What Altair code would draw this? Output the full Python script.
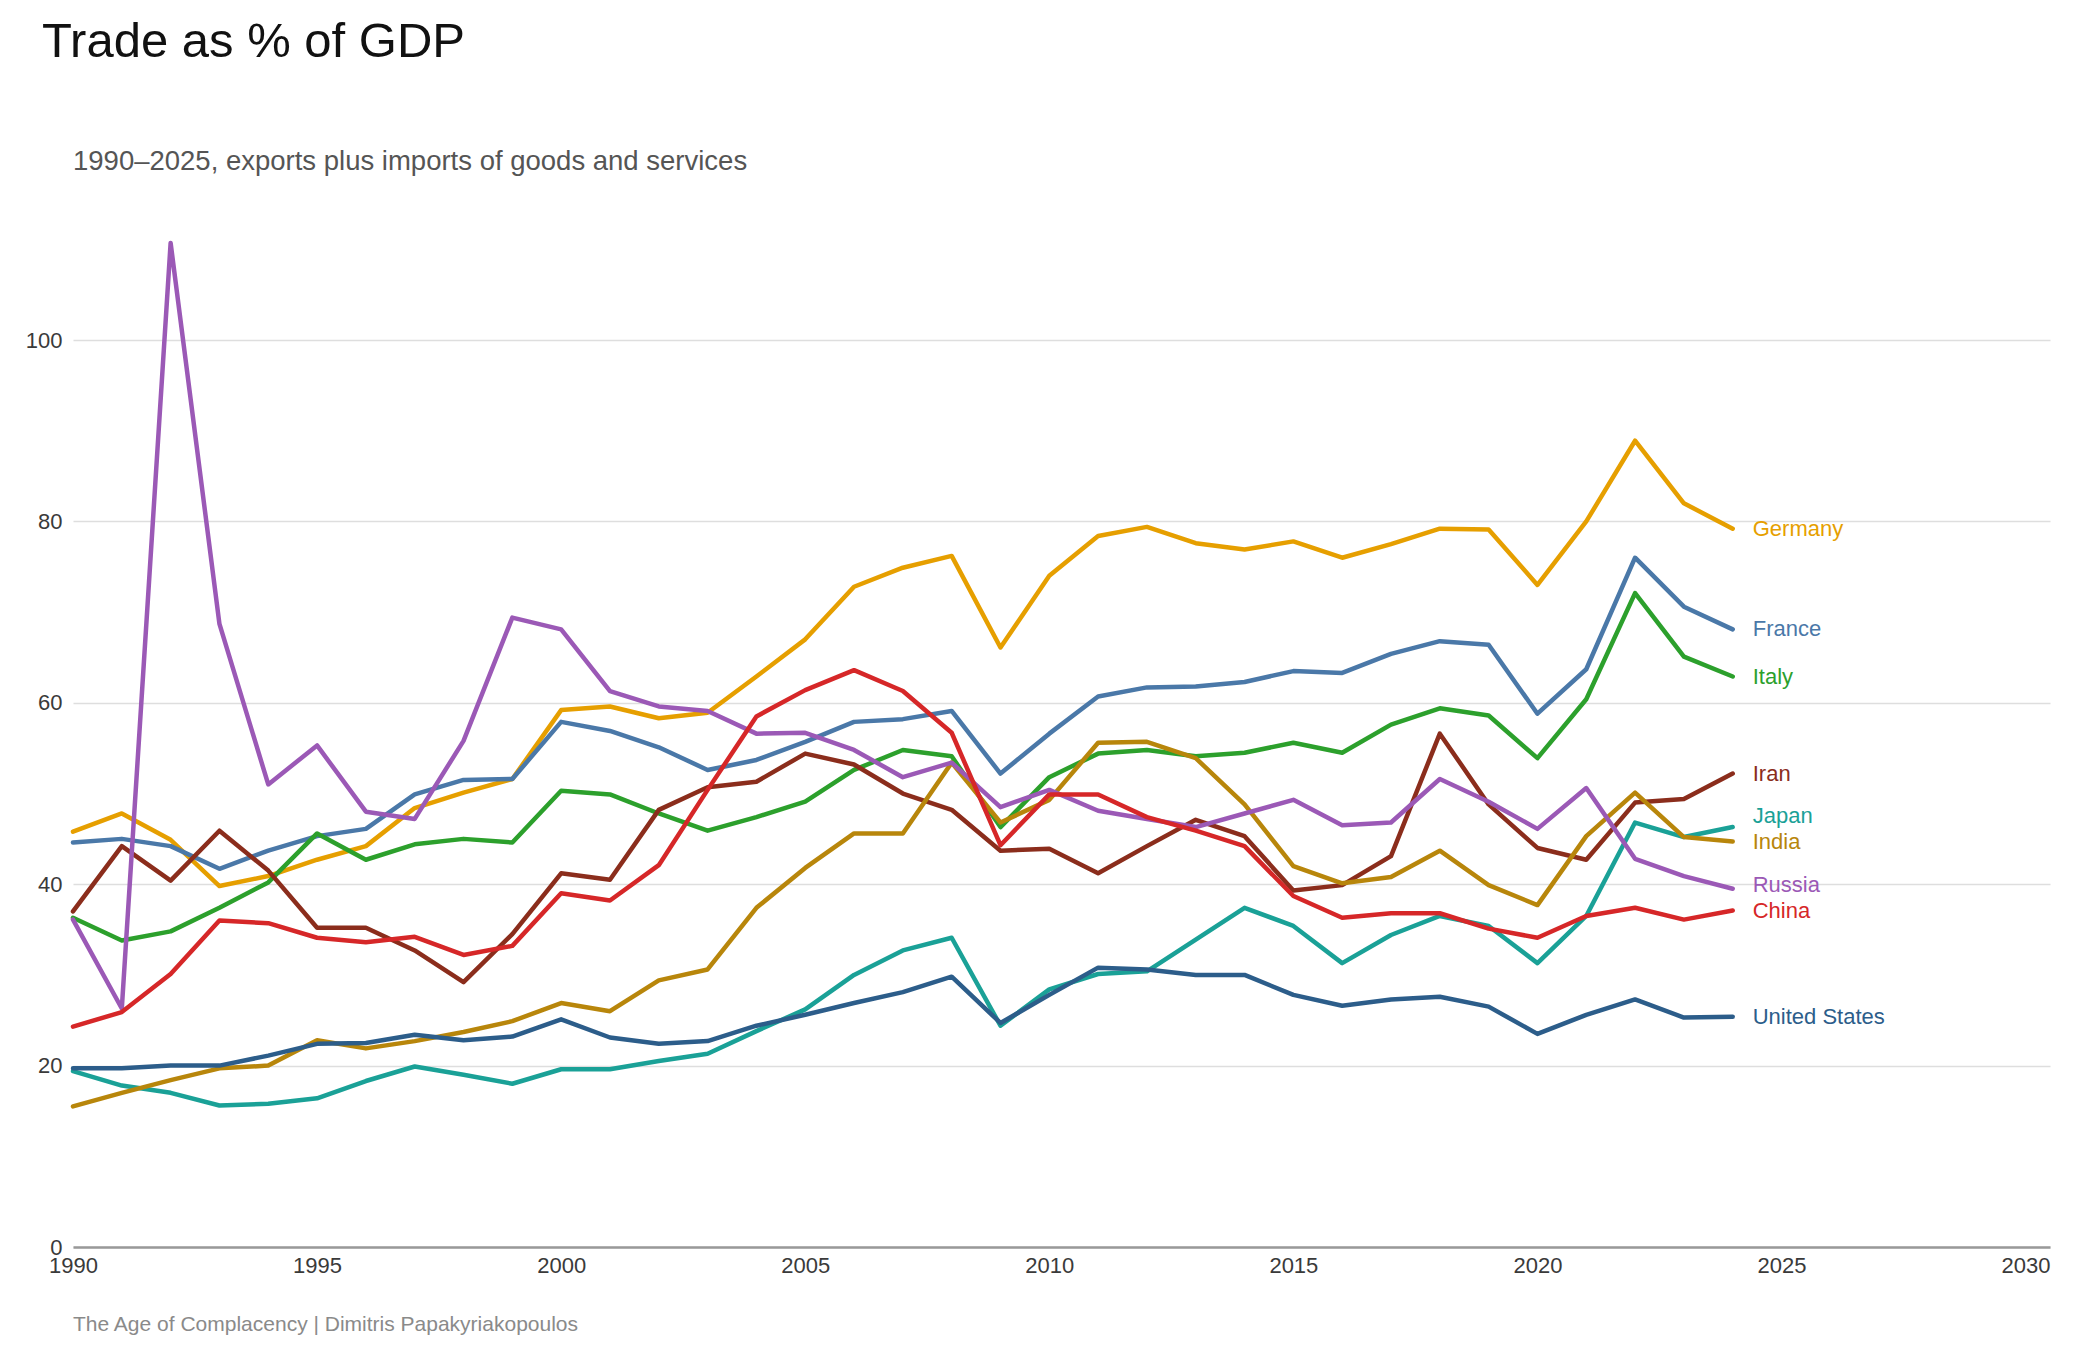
import altair as alt
import pandas as pd

# Trade (exports + imports) as a share of GDP, in percent
years = list(range(1990, 2025))

germany = [45.8, 47.8, 44.9, 39.8, 40.9, 42.7, 44.2, 48.4, 50.1, 51.6,
           59.2, 59.6, 58.3, 58.9, 62.9, 67.0, 72.8, 74.9, 76.2, 66.1,
           74.0, 78.4, 79.4, 77.6, 76.9, 77.8, 76.0, 77.5, 79.2, 79.1,
           73.0, 80.0, 88.9, 82.0, 79.2]
france = [44.6, 45.0, 44.2, 41.7, 43.7, 45.3, 46.1, 49.9, 51.5, 51.6,
          57.9, 56.9, 55.1, 52.6, 53.7, 55.7, 57.9, 58.2, 59.1, 52.2,
          56.6, 60.7, 61.7, 61.8, 62.3, 63.5, 63.3, 65.4, 66.8, 66.4,
          58.8, 63.7, 76.0, 70.6, 68.1]
italy = [36.3, 33.8, 34.8, 37.4, 40.2, 45.6, 42.7, 44.4, 45.0, 44.6,
         50.3, 49.9, 47.8, 45.9, 47.4, 49.1, 52.6, 54.8, 54.1, 46.3,
         51.8, 54.4, 54.8, 54.1, 54.5, 55.6, 54.5, 57.6, 59.4, 58.6,
         53.9, 60.4, 72.1, 65.1, 62.9]
iran = [37.0, 44.2, 40.4, 45.9, 41.5, 35.2, 35.2, 32.7, 29.2, 34.5,
        41.2, 40.5, 48.2, 50.7, 51.3, 54.4, 53.2, 50.0, 48.2, 43.7,
        43.9, 41.2, 44.2, 47.1, 45.3, 39.3, 39.9, 43.1, 56.6, 48.8,
        44.0, 42.7, 49.0, 49.4, 52.2]
japan = [19.4, 17.8, 17.0, 15.6, 15.8, 16.4, 18.3, 19.9, 19.0, 18.0,
         19.6, 19.6, 20.5, 21.3, 23.8, 26.2, 30.0, 32.7, 34.1, 24.4,
         28.4, 30.1, 30.4, 33.9, 37.4, 35.4, 31.3, 34.4, 36.5, 35.4,
         31.3, 36.5, 46.8, 45.2, 46.3]
india = [15.5, 17.0, 18.4, 19.7, 20.0, 22.8, 21.9, 22.7, 23.7, 24.9,
         26.9, 26.0, 29.4, 30.6, 37.4, 41.8, 45.6, 45.6, 53.4, 46.8,
         49.3, 55.6, 55.7, 53.9, 48.8, 42.0, 40.1, 40.8, 43.7, 39.9,
         37.7, 45.3, 50.1, 45.2, 44.7]
russia = [36.1, 26.3, 110.7, 68.7, 51.0, 55.3, 48.0, 47.2, 55.8, 69.4,
          68.1, 61.3, 59.6, 59.1, 56.6, 56.7, 54.8, 51.8, 53.4, 48.5,
          50.4, 48.1, 47.2, 46.3, 47.8, 49.3, 46.5, 46.8, 51.6, 49.1,
          46.1, 50.6, 42.8, 40.9, 39.5]
china = [24.3, 25.9, 30.1, 36.0, 35.7, 34.1, 33.6, 34.2, 32.2, 33.2,
         39.0, 38.2, 42.1, 50.4, 58.5, 61.4, 63.6, 61.3, 56.7, 44.3,
         49.9, 49.9, 47.4, 45.9, 44.2, 38.7, 36.3, 36.8, 36.8, 35.1,
         34.1, 36.5, 37.4, 36.1, 37.1]
united_states = [19.7, 19.7, 20.0, 20.0, 21.1, 22.4, 22.5, 23.4, 22.8, 23.2,
                 25.1, 23.1, 22.4, 22.7, 24.4, 25.6, 26.9, 28.1, 29.8, 24.7,
                 27.8, 30.8, 30.6, 30.0, 30.0, 27.8, 26.6, 27.3, 27.6, 26.5,
                 23.5, 25.6, 27.3, 25.3, 25.4]

countries = ["Germany", "France", "Italy", "Iran", "Japan", "India",
             "Russia", "China", "United States"]
series = [germany, france, italy, iran, japan, india, russia, china, united_states]
colors = ["#E69F00", "#4A78A8", "#2CA02C", "#8B2D1C", "#1AA197", "#B8860B",
          "#9B59B6", "#D62728", "#2C5D8A"]

x_ticks = [1990, 1995, 2000, 2005, 2010, 2015, 2020, 2025, 2030]
y_ticks = [0, 20, 40, 60, 80, 100]

FONT = "Liberation Sans"

long_rows = []
for name, vals in zip(countries, series):
    for yr, v in zip(years, vals):
        long_rows.append({"country": name, "year": yr, "value": v})
df = pd.DataFrame(long_rows)

# End-of-line labels: working upward from the lowest, lift any name that
# would sit too close to the one below it
ends = sorted((vals[-1], name) for name, vals in zip(countries, series))
min_gap = 2.8
pos = []
for v, _ in ends:
    if pos and v - pos[-1] < min_gap:
        v = pos[-1] + min_gap
    pos.append(v)
labels = pd.DataFrame({
    "country": [n for _, n in ends],
    "year": [years[-1]] * len(ends),
    "label_y": pos,
})

x_scale = alt.Scale(domain=[1990, 2030.5], nice=False, zero=False)
y_scale = alt.Scale(domain=[0, 115], nice=False)
color_scale = alt.Scale(domain=countries, range=colors)

lines = alt.Chart(df).mark_line(strokeWidth=4.5, strokeCap="round", strokeJoin="round").encode(
    x=alt.X("year:Q", scale=x_scale,
            axis=alt.Axis(values=x_ticks, format="d", title=None, grid=False, ticks=False,
                          domainColor="#999999", domainWidth=2.5, labelFontSize=22,
                          labelColor="#3a3a3a", labelFont=FONT, labelPadding=8,
                          labelFlush=False, labelOverlap=False)),
    y=alt.Y("value:Q", scale=y_scale,
            axis=alt.Axis(values=y_ticks, title=None, grid=True, gridColor="#dedede",
                          gridWidth=1.5, domain=False, ticks=False, labelFontSize=22,
                          labelColor="#3a3a3a", labelFont=FONT, labelPadding=11,
                          labelFlush=False)),
    color=alt.Color("country:N", scale=color_scale, legend=None),
    detail="country:N",
)

end_labels = alt.Chart(labels).mark_text(
    align="left", baseline="middle", dx=20, fontSize=22, font=FONT
).encode(
    x=alt.X("year:Q", scale=x_scale),
    y=alt.Y("label_y:Q", scale=y_scale),
    text="country:N",
    color=alt.Color("country:N", scale=color_scale, legend=None),
)

title = alt.Chart(pd.DataFrame({"t": ["Trade as % of GDP"]})).mark_text(
    align="left", baseline="alphabetic", fontSize=49, font=FONT, color="#111111"
).encode(x=alt.value(-31), y=alt.value(-147), text="t:N")

subtitle = alt.Chart(pd.DataFrame({"t": ["1990–2025, exports plus imports of goods and services"]})).mark_text(
    align="left", baseline="alphabetic", fontSize=27.5, font=FONT, color="#555555"
).encode(x=alt.value(0), y=alt.value(-34), text="t:N")

footer = alt.Chart(pd.DataFrame({"t": ["The Age of Complacency | Dimitris Papakyriakopoulos"]})).mark_text(
    align="left", baseline="alphabetic", fontSize=21, font=FONT, color="#8a8a8a"
).encode(x=alt.value(0), y=alt.value(1127), text="t:N")

chart = alt.layer(lines, end_labels, title, subtitle, footer).properties(
    width=1977,
    height=1043,
    autosize=alt.AutoSizeParams(type="none"),
    padding={"left": 73, "top": 204, "right": 30, "bottom": 113},
    background="white",
).configure_view(stroke=None)

chart.save("out.html", embed_options={"renderer": "svg", "actions": False})
